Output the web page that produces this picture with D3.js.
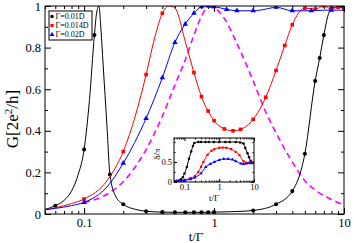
<!DOCTYPE html>
<html>
<head>
<meta charset="utf-8">
<script src="https://cdn.jsdelivr.net/npm/d3@7"></script>
<style>
body { margin: 0; background: #fff; }
text { font-family: "Liberation Serif", "Times New Roman", serif; }
.axis path, .axis line { stroke: #000; }
</style>
</head>
<body>
<div class="chart"></div>
<script>
// ---- data ----
// main panel: conductance vs t/Gamma
var blackT = [0.05, 0.06, 0.07, 0.08, 0.09, 0.1, 0.11, 0.12, 0.125, 0.13, 0.135, 0.14, 0.15, 0.158, 0.175, 0.2, 0.25, 0.3, 0.4, 0.5, 0.6, 0.7, 0.8, 0.9, 1, 1.5, 2, 3, 4, 5, 6, 6.5, 7, 7.5, 8, 9, 10];
var blackG = [0.022, 0.04, 0.065, 0.11, 0.19, 0.31, 0.55, 0.86, 0.97, 1.0, 0.88, 0.72, 0.42, 0.19, 0.085, 0.047, 0.022, 0.013, 0.009, 0.008, 0.008, 0.008, 0.008, 0.008, 0.009, 0.012, 0.017, 0.047, 0.11, 0.29, 0.64, 0.75, 0.86, 0.95, 0.99, 0.995, 0.99];
var blackMarks = [0.06, 0.1, 0.12, 0.158, 0.2, 0.3, 0.4, 0.5, 0.6, 0.7, 0.8, 0.9, 1, 2, 3, 4, 5, 6, 6.5, 7, 8, 9, 10];

var redT = [0.05, 0.06, 0.08, 0.1, 0.15, 0.2, 0.25, 0.3, 0.35, 0.4, 0.45, 0.5, 0.6, 0.7, 0.8, 0.9, 1, 1.2, 1.4, 1.6, 2, 2.5, 3, 3.5, 4, 5, 6, 7, 8, 9, 10];
var redG = [0.02, 0.03, 0.05, 0.072, 0.16, 0.30, 0.48, 0.67, 0.85, 0.965, 1.0, 0.99, 0.83, 0.68, 0.564, 0.495, 0.449, 0.409, 0.40, 0.407, 0.455, 0.561, 0.69, 0.81, 0.91, 0.99, 0.985, 1.0, 0.985, 0.995, 0.985];
var redMarks = [0.1, 0.2, 0.3, 0.4, 0.7, 0.8, 0.9, 1, 1.2, 1.4, 1.6, 2, 2.5, 3, 3.5, 4, 5, 6, 7, 8, 9, 10];

var blueT = [0.05, 0.06, 0.08, 0.1, 0.15, 0.2, 0.3, 0.4, 0.5, 0.6, 0.7, 0.8, 0.9, 1, 1.25, 1.5, 2, 2.5, 3, 4, 5.6, 7, 8, 10];
var blueG = [0.02, 0.027, 0.04, 0.056, 0.13, 0.244, 0.46, 0.655, 0.825, 0.913, 0.965, 0.997, 1.0, 0.997, 0.984, 0.977, 0.977, 0.985, 0.994, 0.977, 0.977, 0.98, 0.98, 0.98];
var blueMarks = [0.1, 0.2, 0.3, 0.4, 0.5, 0.6, 0.7, 0.8, 0.9, 1, 1.25, 1.5, 2, 3, 4, 5.6, 8];

var magT = [0.1, 0.15, 0.2, 0.3, 0.4, 0.5, 0.6, 0.7, 0.8, 0.9, 1, 1.2, 1.5, 2, 2.5, 3, 4, 5, 6, 8, 10];
var magG = [0.055, 0.095, 0.155, 0.31, 0.47, 0.62, 0.74, 0.86, 0.95, 0.995, 0.99, 0.94, 0.82, 0.64, 0.49, 0.39, 0.25, 0.16, 0.115, 0.07, 0.043];

// inset: phase shift delta/pi
var inBlackT = [0.05, 0.06, 0.07, 0.08, 0.09, 0.1, 0.117, 0.135, 0.156, 0.175, 0.193, 0.25, 0.3, 0.4, 0.5, 0.7, 1, 1.5, 2, 3, 4, 5, 5.6, 6.5, 7.2, 8, 9, 10];
var inBlackD = [0.025, 0.03, 0.04, 0.07, 0.12, 0.21, 0.375, 0.58, 0.76, 0.9, 0.975, 1.0, 1.0, 1.0, 1.0, 1.0, 1.0, 1.0, 1.0, 1.0, 0.99, 0.96, 0.85, 0.72, 0.62, 0.53, 0.49, 0.48];
var inRedT = [0.05, 0.07, 0.1, 0.15, 0.2, 0.25, 0.3, 0.35, 0.46, 0.6, 0.72, 1, 1.25, 1.6, 2.2, 3, 3.8, 5, 6, 7, 8, 10];
var inRedD = [0.02, 0.03, 0.05, 0.1, 0.15, 0.25, 0.38, 0.5, 0.68, 0.78, 0.82, 0.855, 0.86, 0.855, 0.82, 0.75, 0.67, 0.52, 0.48, 0.48, 0.49, 0.48];
var inBlueT = [0.05, 0.07, 0.1, 0.15, 0.2, 0.3, 0.41, 0.55, 0.72, 1, 1.35, 1.8, 2.4, 3, 4.2, 5, 6, 8, 10];
var inBlueD = [0.02, 0.03, 0.04, 0.07, 0.11, 0.22, 0.375, 0.45, 0.5, 0.55, 0.575, 0.575, 0.56, 0.52, 0.46, 0.45, 0.46, 0.47, 0.47];

var legendLabels = ["\u0393=0.01D", "\u0393=0.014D", "\u0393=0.02D"];
var xMajor = [0.1, 1, 10];
var xMinor = [0.05, 0.06, 0.07, 0.08, 0.09, 0.2, 0.3, 0.4, 0.5, 0.6, 0.7, 0.8, 0.9, 2, 3, 4, 5, 6, 7, 8, 9];
var yMajor = [0, 0.2, 0.4, 0.6, 0.8, 1];
var yMinor = [0.1, 0.3, 0.5, 0.7, 0.9];
var inYMajor = [0, 0.5];
var inYMinor = [0.25, 0.75, 1];

// Set up SVG area
var svgWidth = 354;
var svgHeight = 243;
var margin = {top: 6, right: 10, bottom: 29, left: 45};
var width = svgWidth - margin.left - margin.right;
var height = svgHeight - margin.top - margin.bottom;

var svg = d3.select(".chart")
    .append("svg")
    .attr("width", svgWidth)
    .attr("height", svgHeight);

var chartGroup = svg.append("g")
    .attr("transform", "translate(" + margin.left + "," + margin.top + ")");

function zip(ts, vs) {
    return ts.map(function(t, i) { return {t: t, v: vs[i]}; });
}

// draws one whole panel (axes, frame, curves) into group g
function panel(g, w, h, xDom, yDom, opt) {
    var x = d3.scaleLog().domain(xDom).range([0, w]);
    var y = d3.scaleLinear().domain(yDom).range([h, 0]);
    var fmt = function(d) { return d3.format("")(d); };

    g.append("rect").attr("width", w).attr("height", h).attr("fill", "#fff");

    // clip
    var id = "clip" + opt.name;
    g.append("clipPath").attr("id", id).append("rect").attr("width", w).attr("height", h);

    // bottom axis, labelled
    g.append("g").attr("class", "axis").attr("transform", "translate(0," + h + ")")
        .call(d3.axisBottom(x).tickValues(xMajor).tickSizeInner(-opt.major).tickSizeOuter(0).tickPadding(opt.pad).tickFormat(fmt))
        .call(a => a.selectAll("text").attr("font-size", opt.font))
        .call(a => a.select(".domain").remove());
    g.append("g").attr("class", "axis").attr("transform", "translate(0," + h + ")")
        .call(d3.axisBottom(x).tickValues(xMinor).tickSizeInner(-opt.minor).tickSizeOuter(0).tickFormat(""))
        .call(a => a.select(".domain").remove());
    // top axis, ticks only
    g.append("g").attr("class", "axis")
        .call(d3.axisTop(x).tickValues(xMajor).tickSizeInner(-opt.major).tickSizeOuter(0).tickFormat(""))
        .call(a => a.select(".domain").remove());
    g.append("g").attr("class", "axis")
        .call(d3.axisTop(x).tickValues(xMinor).tickSizeInner(-opt.minor).tickSizeOuter(0).tickFormat(""))
        .call(a => a.select(".domain").remove());

    // left axis, labelled
    g.append("g").attr("class", "axis")
        .call(d3.axisLeft(y).tickValues(opt.yMajor).tickSizeInner(-opt.major).tickSizeOuter(0).tickPadding(opt.pad).tickFormat(fmt))
        .call(a => a.selectAll("text").attr("font-size", opt.font))
        .call(a => a.select(".domain").remove());
    g.append("g").attr("class", "axis")
        .call(d3.axisLeft(y).tickValues(opt.yMinor).tickSizeInner(-opt.minor).tickSizeOuter(0).tickFormat(""))
        .call(a => a.select(".domain").remove());
    // right axis, ticks only
    g.append("g").attr("class", "axis").attr("transform", "translate(" + w + ",0)")
        .call(d3.axisRight(y).tickValues(opt.yMajor).tickSizeInner(-opt.major).tickSizeOuter(0).tickFormat(""))
        .call(a => a.select(".domain").remove());
    g.append("g").attr("class", "axis").attr("transform", "translate(" + w + ",0)")
        .call(d3.axisRight(y).tickValues(opt.yMinor).tickSizeInner(-opt.minor).tickSizeOuter(0).tickFormat(""))
        .call(a => a.select(".domain").remove());

    var plot = g.append("g").attr("clip-path", "url(#" + id + ")");
    var line = d3.line().x(d => x(d.t)).y(d => y(d.v)).curve(d3.curveMonotoneX);

    opt.series.forEach(function(s) {
        var pts = zip(s.t, s.v);
        plot.append("path").datum(pts)
            .attr("fill", "none")
            .attr("stroke", s.color)
            .attr("stroke-width", s.dash ? 1.6 : 1)
            .attr("stroke-dasharray", s.dash ? "6,4" : null)
            .attr("d", line);
        if (s.symbol) {
            var marks = s.marks ? pts.filter(p => s.marks.indexOf(p.t) >= 0) : pts;
            plot.selectAll(null).data(marks).enter().append("path")
                .attr("transform", d => "translate(" + x(d.t) + "," + y(d.v) + ")")
                .attr("d", d3.symbol().type(s.symbol).size(opt.symSize))
                .attr("fill", s.color);
        }
    });

    // frame
    g.append("rect").attr("width", w).attr("height", h)
        .attr("fill", "none").attr("stroke", "#000").attr("stroke-width", 1);

    return {x: x, y: y};
}

panel(chartGroup, width, height, [0.05, 10], [0, 1], {
    name: "main", major: 6, minor: 3, pad: 4, font: 12.5, symSize: 13,
    yMajor: yMajor, yMinor: yMinor,
    series: [
        {t: magT, v: magG, color: "#ff00ff", dash: true},
        {t: blackT, v: blackG, color: "#000", symbol: d3.symbolCircle, marks: blackMarks},
        {t: redT, v: redG, color: "#ff0000", symbol: d3.symbolSquare, marks: redMarks},
        {t: blueT, v: blueG, color: "#0000ff", symbol: d3.symbolTriangle, marks: blueMarks}
    ]
});

// axis labels
svg.append("text")
    .attr("transform", "translate(18," + 119 + ") rotate(-90)")
    .attr("text-anchor", "middle")
    .attr("font-size", 17)
    .html("G[2e<tspan baseline-shift='super' font-size='11'>2</tspan>/h]");

svg.append("text")
    .attr("x", 196).attr("y", 241)
    .attr("text-anchor", "middle")
    .attr("font-size", 13)
    .text("t/\u0393");

// legend
var legend = chartGroup.append("g").attr("transform", "translate(4,5)");
legend.append("rect").attr("width", 43).attr("height", 29)
    .attr("fill", "#fff").attr("stroke", "#000").attr("stroke-width", 1);
var legSyms = [d3.symbolCircle, d3.symbolSquare, d3.symbolTriangle];
var legCols = ["#000", "#ff0000", "#0000ff"];
legendLabels.forEach(function(lab, i) {
    var yy = 5 + i * 9;
    legend.append("path")
        .attr("transform", "translate(3," + (yy + 0.5) + ")")
        .attr("d", d3.symbol().type(legSyms[i]).size(10))
        .attr("fill", legCols[i]);
    legend.append("text")
        .attr("x", 6.5).attr("y", yy + 3)
        .attr("font-size", 8)
        .text(lab);
});

// inset
var inset = svg.append("g").attr("transform", "translate(174,138)");
panel(inset, 80, 44, [0.05, 10], [0, 1.1], {
    name: "inset", major: 3, minor: 1.5, pad: 2, font: 8.5, symSize: 5,
    yMajor: inYMajor, yMinor: inYMinor,
    series: [
        {t: inBlackT, v: inBlackD, color: "#000", symbol: d3.symbolCircle},
        {t: inRedT, v: inRedD, color: "#ff0000", symbol: d3.symbolSquare},
        {t: inBlueT, v: inBlueD, color: "#0000ff", symbol: d3.symbolTriangle}
    ]
});

inset.append("text")
    .attr("transform", "translate(-14,16) rotate(-90)")
    .attr("text-anchor", "middle")
    .attr("font-size", 9)
    .text("\u03b4/\u03c0");
inset.append("text")
    .attr("x", 40).attr("y", 63)
    .attr("text-anchor", "middle")
    .attr("font-size", 9)
    .text("t/\u0393");
</script>
</body>
</html>
